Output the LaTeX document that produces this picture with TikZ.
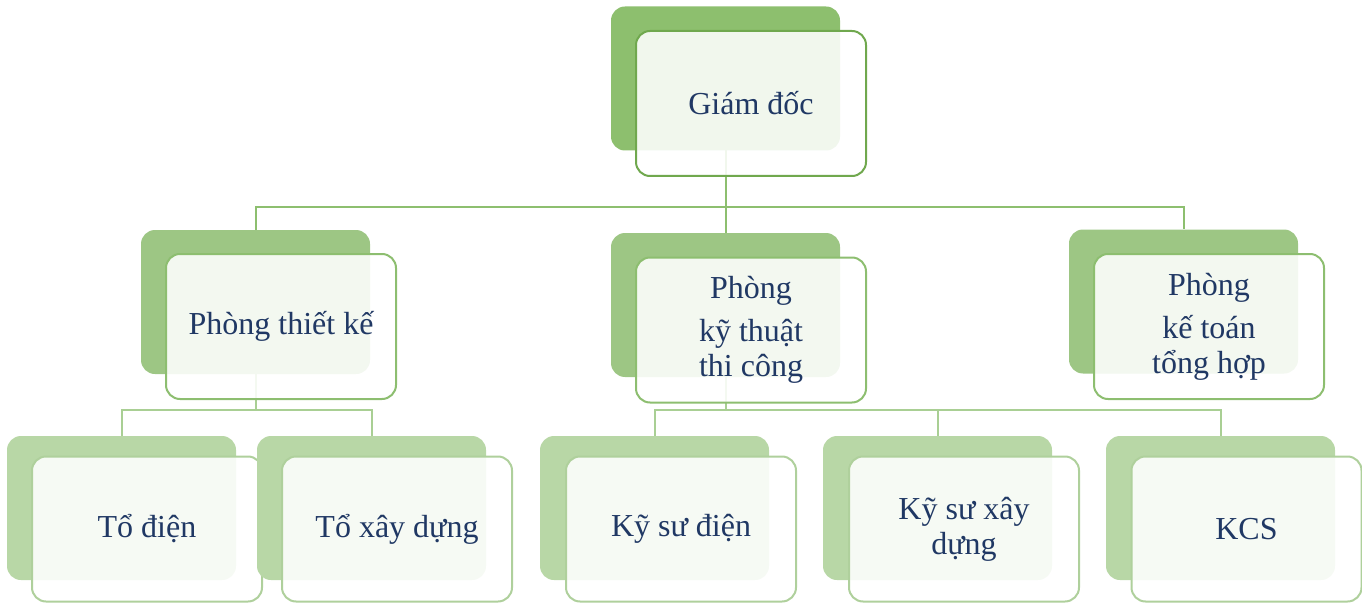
\documentclass[tikz,border=0pt]{standalone}
\usepackage{fontspec}
\setmainfont{Liberation Serif}
\usetikzlibrary{positioning,backgrounds}
\definecolor{topfill}{HTML}{8DBF6E}
\definecolor{topline}{HTML}{70A84E}
\definecolor{midfill}{HTML}{9DC684}
\definecolor{midline}{HTML}{8DBE70}
\definecolor{lowfill}{HTML}{B8D7A6}
\definecolor{lowline}{HTML}{AFD09C}
\definecolor{ink}{HTML}{203864}
\definecolor{linkA}{HTML}{8DBF6F}
\definecolor{linkB}{HTML}{A9CF94}
\tikzstyle{back} = [rectangle, rounded corners=14pt, minimum width=229pt,
minimum height=144pt, inner sep=0pt]
\tikzstyle{front} = [rectangle, draw, line width=2pt, fill=white, fill opacity=0.88,
text opacity=1, rounded corners=14pt, minimum width=230pt, minimum height=145pt,
align=center, text=ink, font=\fontsize{32}{35}\selectfont]
\tikzstyle{link} = [draw, line width=2pt]

\begin{document}
\begin{tikzpicture}[x=1pt, y=-1pt]
\useasboundingbox (0,0) rectangle (1362,604);
% Place nodes
\node [back, fill=topfill] (gdB) at (725.5,78.5) {};
\node [front, draw=topline] (gd) at (751,103.5) {Giám đốc};
\node [back, fill=midfill] (ptkB) at (255.5,302) {};
\node [front, draw=midline] (ptk) at (281,326.5) {Phòng thiết kế};
\node [back, fill=midfill] (ktB) at (725.5,305) {};
\node [front, draw=midline] (kt) at (751,330) {Phòng\\[8pt]kỹ thuật\\thi công};
\node [back, fill=midfill] (kthB) at (1183.5,301.5) {};
\node [front, draw=midline] (kth) at (1209,326.5) {Phòng\\[8pt]kế toán\\tổng hợp};
\node [back, fill=lowfill] (tdB) at (121.5,508) {};
\node [front, draw=lowline] (td) at (147,529) {Tổ điện};
\node [back, fill=lowfill] (txdB) at (371.5,508) {};
\node [front, draw=lowline] (txd) at (397,529) {Tổ xây dựng};
\node [back, fill=lowfill] (ksdB) at (654.5,508) {};
\node [front, draw=lowline] (ksd) at (681,529) {Kỹ sư điện};
\node [back, fill=lowfill] (ksxdB) at (937.5,508) {};
\node [front, draw=lowline] (ksxd) at (964,529) {Kỹ sư xây\\dựng};
\node [back, fill=lowfill] (kcsB) at (1220.5,508) {};
\node [front, draw=lowline] (kcs) at (1246.5,529) {KCS};
\coordinate (bus1) at (0,207);
\coordinate (bus2) at (0,410);
% Draw edges
\begin{scope}[on background layer]
\path [link, draw=linkA] (gdB.center) -- (gdB.center |- bus1) -| (ptkB.north);
\path [link, draw=linkA] (gdB.center) -- (ktB.north);
\path [link, draw=linkA] (gdB.center) -- (gdB.center |- bus1) -| (kthB.north);
\path [link, draw=linkB] (ptkB.center) -- (ptkB.center |- bus2) -| (tdB.north);
\path [link, draw=linkB] (ptkB.center) -- (ptkB.center |- bus2) -| (txdB.north);
\path [link, draw=linkB] (ktB.center) -- (ktB.center |- bus2) -| (ksdB.north);
\path [link, draw=linkB] (ktB.center) -- (ktB.center |- bus2) -| (ksxdB.north);
\path [link, draw=linkB] (ktB.center) -- (ktB.center |- bus2) -| (kcsB.north);
\end{scope}
\end{tikzpicture}
\end{document}
